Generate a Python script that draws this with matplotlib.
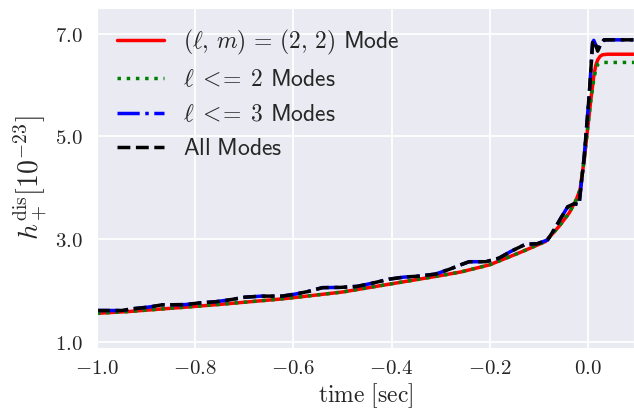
import matplotlib
matplotlib.use("Agg")
import matplotlib.pyplot as plt
import seaborn as sns
from matplotlib.ticker import FuncFormatter

# displacement memory h_+^dis in units of 1e-23, sampled off the waveform
t_22 = [-1.0, -0.936, -0.868, -0.8, -0.749, -0.63, -0.6, -0.5, -0.4, -0.3,
        -0.259, -0.2, -0.133, -0.086, -0.059, -0.038, -0.024, -0.016, -0.0075,
        -0.0007, 0.006, 0.012, 0.016, 0.020, 0.025, 0.030, 0.04, 0.1]
h_22 = [1.555, 1.59, 1.64, 1.69, 1.73, 1.83, 1.86, 1.97, 2.13, 2.29,
        2.36, 2.50, 2.76, 2.955, 3.245, 3.51, 3.76, 3.96, 4.54,
        5.13, 5.71, 6.17, 6.38, 6.49, 6.56, 6.59, 6.60, 6.60]

t_l2 = [-1.0, -0.936, -0.868, -0.8, -0.749, -0.63, -0.6, -0.5, -0.4, -0.3,
        -0.259, -0.2, -0.133, -0.086, -0.059, -0.038, -0.024, -0.016, -0.0075,
        -0.0007, 0.006, 0.012, 0.016, 0.020, 0.025, 0.030, 0.04, 0.1]
h_l2 = [1.555, 1.59, 1.64, 1.69, 1.73, 1.83, 1.86, 1.97, 2.13, 2.29,
        2.36, 2.50, 2.76, 2.955, 3.245, 3.51, 3.76, 3.96, 4.54,
        5.13, 5.70, 6.10, 6.30, 6.40, 6.43, 6.44, 6.44, 6.44]

t_all = [-1.0, -0.95, -0.926, -0.892, -0.868, -0.82, -0.793, -0.759, -0.732,
         -0.698, -0.664, -0.623, -0.596, -0.57, -0.541, -0.504, -0.47, -0.44,
         -0.405, -0.375, -0.344, -0.31, -0.28, -0.259, -0.242, -0.208, -0.181,
         -0.157, -0.127, -0.103, -0.082, -0.069, -0.055, -0.041, -0.028,
         -0.018, -0.0075, 0.003, 0.0096, 0.012, 0.016, 0.020, 0.026, 0.033, 0.1]
h_all = [1.61, 1.61, 1.645, 1.68, 1.72, 1.725, 1.757, 1.78, 1.815,
         1.87, 1.89, 1.89, 1.93, 1.98, 2.055, 2.06, 2.08, 2.14,
         2.22, 2.26, 2.28, 2.32, 2.42, 2.50, 2.56, 2.56, 2.63,
         2.76, 2.90, 2.91, 2.985, 3.18, 3.41, 3.63, 3.69,
         3.67, 4.60, 5.84, 6.82, 6.87, 6.78, 6.66, 6.80, 6.88, 6.88]

# l<=3 sum sits on top of the all-modes curve
t_l3 = list(t_all)
h_l3 = list(h_all)

xticks = [-1.0, -0.8, -0.6, -0.4, -0.2, 0.0]
yticks = [1.0, 3.0, 5.0, 7.0]

sns.set_style("darkgrid")
plt.rcParams["mathtext.fontset"] = "cm"
plt.rcParams["font.family"] = ["DejaVu Sans"]

fig = plt.figure(figsize=(6.34, 4.12), dpi=100)
ax = fig.add_axes([97 / 634, 1 - 348 / 412, 1 - 97 / 634, 340 / 412])

lw = 2.5
ax.plot(t_22, h_22, "-", color="r", lw=lw,
        label=r"$(\ell,\, m)\,=\,(2,\, 2)$ $\mathsf{Mode}$")
ax.plot(t_l2, h_l2, ":", color="g", lw=lw,
        label=r"$\ell\;{<}\!\!{=}\;2$ $\mathsf{Modes}$")
ax.plot(t_l3, h_l3, "-.", color="b", lw=lw,
        label=r"$\ell\;{<}\!\!{=}\;3$ $\mathsf{Modes}$")
ax.plot(t_all, h_all, "--", color="k", lw=lw, label=r"$\mathsf{All\ Modes}$")

ax.set_xlim(-1.0, 0.094)
ax.set_ylim(0.88, 7.5)
ax.set_xticks(xticks)
ax.set_yticks(yticks)
fmt = FuncFormatter(lambda v, p: r"$%.1f$" % v)
ax.xaxis.set_major_formatter(fmt)
ax.yaxis.set_major_formatter(fmt)
ax.tick_params(axis="x", labelsize=15, pad=4)
ax.tick_params(axis="y", labelsize=15, pad=7)
ax.grid(True, color="white", lw=1.3)

ax.set_xlabel(r"$\rm time\ [sec]$", fontsize=17, labelpad=2)
ax.set_ylabel(r"$h_+^{\rm dis} [10^{-23}]$", fontsize=20)

ax.legend(loc="upper left", fontsize=17, frameon=False, labelspacing=0.44,
          borderaxespad=0.45)

fig.savefig("out.png", dpi=100)
